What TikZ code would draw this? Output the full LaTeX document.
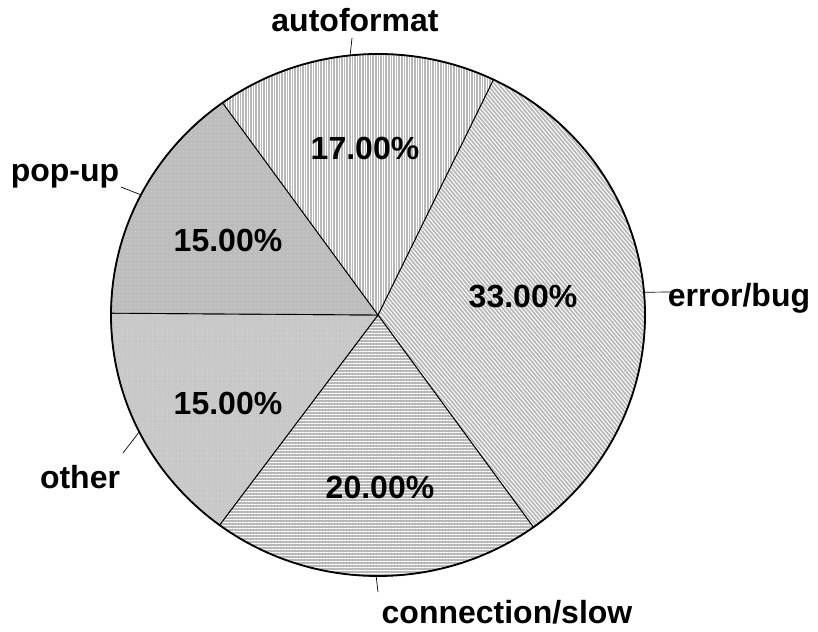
\documentclass[tikz,border=0pt]{standalone}
\usepackage{fontspec}
\setmainfont{Liberation Sans}
\usetikzlibrary{patterns.meta}
\begin{document}
\begin{tikzpicture}[x=1pt,y=1pt,
  slice/.style={draw=black,line width=0.9pt,line join=round},
  stripes/.style={preaction={fill=#1}},
  lbl/.style={font=\fontsize{32}{36}\selectfont\bfseries,inner sep=0pt},
  pct/.style={font=\fontsize{32}{36}\selectfont\bfseries,inner sep=0pt},
  leader/.style={draw=black,line width=0.7pt},
  rad/.style={x radius=267pt,y radius=261pt}]
  \useasboundingbox (0,0) rectangle (818,631);
  \coordinate (c) at (378,316);
  % error/bug
  \path[slice,stripes=black!28,pattern={Lines[angle=-50,distance=3pt,line width=1pt]},pattern color=white]
    (c) -- ++(64.4:267pt and 261pt) arc[rad,start angle=64.4,end angle=-54.4] -- cycle;
  % connection/slow
  \path[slice,stripes=black!28,pattern={Lines[angle=0,distance=3pt,line width=1pt]},pattern color=white]
    (c) -- ++(-54.4:267pt and 261pt) arc[rad,start angle=-54.4,end angle=-126.4] -- cycle;
  % other
  \path[slice,stripes=black!22,pattern={Dots[distance=2.5pt,radius=0.5pt]},pattern color=white!85!black]
    (c) -- ++(-126.4:267pt and 261pt) arc[rad,start angle=-126.4,end angle=-180.4] -- cycle;
  % pop-up
  \path[slice,stripes=black!26,pattern={Dots[distance=4pt,radius=0.5pt]},pattern color=white!85!black]
    (c) -- ++(-180.4:267pt and 261pt) arc[rad,start angle=-180.4,end angle=-234.4] -- cycle;
  % autoformat
  \path[slice,stripes=black!28,pattern={Lines[angle=90,distance=2.6pt,line width=0.9pt]},pattern color=white]
    (c) -- ++(-234.4:267pt and 261pt) arc[rad,start angle=-234.4,end angle=-295.6] -- cycle;
  % outer rim
  \draw[line width=1.8pt] (c) ellipse[rad];

  % leader lines
  \path (c) ++(96:267pt and 261pt) coordinate (ia);
  \path (c) ++(152.6:267pt and 261pt) coordinate (ip);
  \path (c) ++(5:267pt and 261pt) coordinate (ie);
  \path (c) ++(-153.4:267pt and 261pt) coordinate (io);
  \path (c) ++(-90.4:267pt and 261pt) coordinate (ic);
  \coordinate (oa) at (352,593);
  \coordinate (op) at (121,444);
  \coordinate (oe) at (673,339);
  \coordinate (oo) at (123,178);
  \coordinate (oc) at (378,39);
  \draw[leader] (ia) -- (oa);
  \draw[leader] (ip) -- (op);
  \draw[leader] (ie) -- (oe);
  \draw[leader] (io) -- (oo);
  \draw[leader] (ic) -- (oc);

  % category labels
  \node[lbl] (la) at (355,611) {autoformat};
  \node[lbl] (lp) at (65,455) {pop-up};
  \node[lbl] (le) at (739,333) {error/bug};
  \node[lbl] (lo) at (80,154) {other};
  \node[lbl] (lc) at (507,19) {connection/slow};

  % percentages
  \node[pct] (pa) at (365,483) {17.00\%};
  \node[pct] (pp) at (228,391) {15.00\%};
  \node[pct] (pe) at (523,334) {33.00\%};
  \node[pct] (po) at (228,228) {15.00\%};
  \node[pct] (pc) at (380,144) {20.00\%};
\end{tikzpicture}
\end{document}
